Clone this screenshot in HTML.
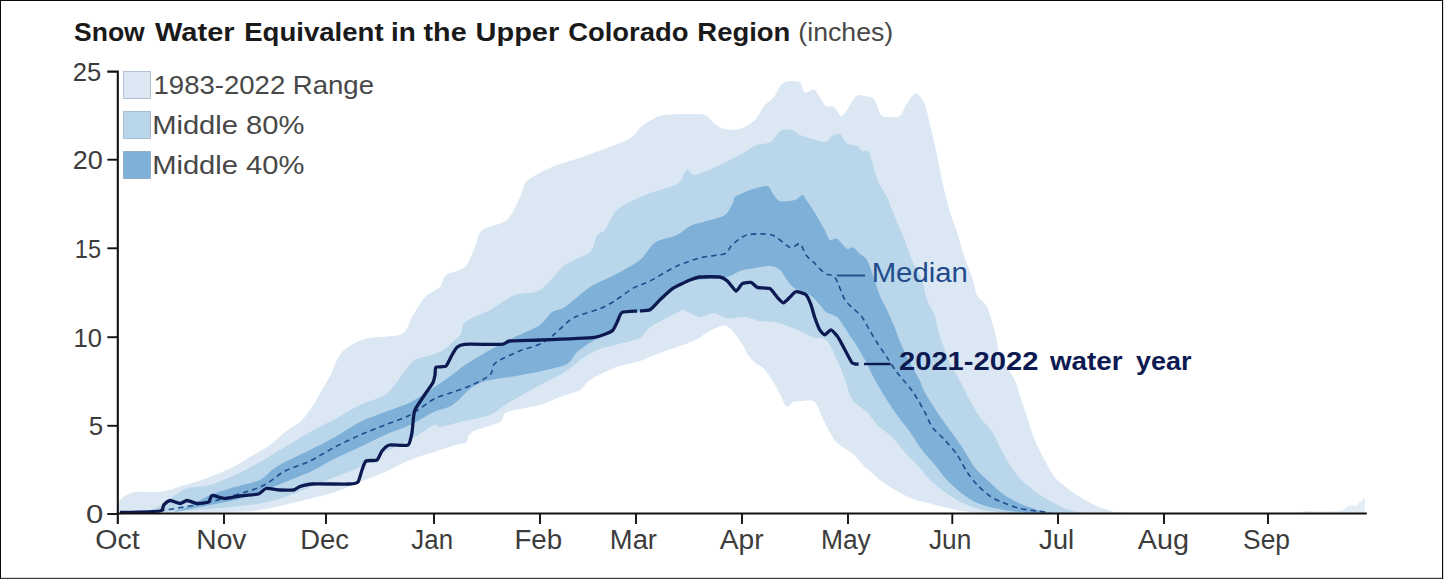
<!DOCTYPE html>
<html><head><meta charset="utf-8"><title>Snow Water Equivalent</title>
<style>
html,body{margin:0;padding:0;background:#fff;}
body{width:1445px;height:581px;overflow:hidden;position:relative;font-family:"Liberation Sans",sans-serif;}
svg{position:absolute;left:0;top:0;font-family:"Liberation Sans",sans-serif;}
</style></head><body>
<svg width="1445" height="581" viewBox="0 0 1445 581">
<g fill="#0a0a0a"><rect x="0" y="0" width="1443.1" height="1"/><rect x="0" y="0" width="1" height="578.7"/><rect x="1442" y="0" width="1.15" height="578.7"/><rect x="0" y="577.85" width="1443.15" height="0.95"/></g>
<path d="M118 513C118.3 511.2 117.6 502.9 120 500C122.4 497.1 129.4 493.1 135 492C140.6 490.9 153.0 493.0 160 492C167.0 491.0 178.0 487.1 185 485C192.0 482.9 203.0 479.7 210 477C217.0 474.3 229.4 468.8 235 466C240.6 463.2 245.1 459.9 250 457C254.9 454.1 265.1 448.5 270 445C274.9 441.5 280.8 435.2 285 432C289.2 428.8 296.2 425.5 300 422C303.8 418.5 308.9 411.5 312 407C315.1 402.5 319.5 394.3 322 390C324.5 385.7 327.2 381.3 330 376C332.8 370.7 337.1 357.2 342 352C346.9 346.8 356.6 341.5 365 339C373.4 336.5 395.4 337.1 402 334C408.6 330.9 408.8 322.2 412 317C415.2 311.8 421.1 301.2 425 297C428.9 292.8 437.1 290.1 440 287C442.9 283.9 442.5 277.8 446 275C449.5 272.2 460.9 270.9 465 267C469.1 263.1 472.6 252.2 475 247C477.4 241.8 477.5 233.8 482 230C486.5 226.2 501.7 224.6 507 220C512.3 215.4 517.2 202.5 520 197C522.8 191.5 522.5 185.2 527 181C531.5 176.8 544.3 170.4 552 167C559.7 163.6 573.2 160.1 582 157C590.8 153.9 608.0 147.8 615 145C622.0 142.2 628.2 139.7 632 137C635.8 134.3 638.1 128.9 642 126C645.9 123.1 654.0 117.7 660 116C666.0 114.3 678.7 114.1 685 114C691.3 113.9 700.8 113.6 705 115C709.2 116.4 712.2 122.0 715 124C717.8 126.0 721.5 128.3 725 129C728.5 129.7 735.8 130.3 740 129C744.2 127.7 751.6 123.2 755 120C758.4 116.8 761.3 109.2 764 106C766.7 102.8 771.5 100.1 774 97C776.5 93.9 779.6 86.2 782 84C784.4 81.8 788.5 81.2 791 81C793.5 80.8 798.0 80.9 800 82.5C802.0 84.1 803.0 91.5 805 92.5C807.0 93.5 811.9 88.8 814 89.5C816.1 90.2 818.3 95.2 820 97.5C821.7 99.8 824.0 104.7 826 106C828.0 107.3 831.9 105.6 834 107C836.1 108.4 839.2 115.6 841 116C842.8 116.4 844.9 112.8 847 110C849.1 107.2 853.6 98.0 856 96C858.4 94.0 861.5 95.6 864 96C866.5 96.4 871.6 96.3 874 99C876.4 101.7 878.8 112.5 881 115C883.2 117.5 887.3 116.9 890 117C892.7 117.1 897.8 117.7 900 116C902.2 114.3 904.2 107.9 906 105C907.8 102.1 911.3 96.5 913 95C914.7 93.5 916.3 92.6 918 94C919.7 95.4 923.3 100.7 925 105C926.7 109.3 928.5 118.7 930 125C931.5 131.3 934.5 143.0 936 150C937.5 157.0 939.6 168.4 941 175C942.4 181.6 944.6 191.4 946 197C947.4 202.6 949.5 210.1 951 215C952.5 219.9 955.1 226.1 957 232C958.9 237.9 962.4 250.7 964.5 257C966.6 263.3 970.2 271.7 972 277C973.8 282.3 974.9 290.8 977 295C979.1 299.2 984.5 302.1 987 307C989.5 311.9 993.1 325.1 994.5 330C995.9 334.9 996.2 338.5 997 342C997.8 345.5 997.5 349.7 1000 355C1002.5 360.3 1011.9 374.4 1014.7 380C1017.5 385.6 1018.0 389.8 1019.7 395C1021.4 400.2 1024.9 410.7 1027 417C1029.1 423.3 1032.2 434.0 1034.7 440C1037.2 446.0 1041.9 454.8 1044.7 460C1047.5 465.2 1051.2 472.8 1054.7 477C1058.2 481.2 1065.5 486.8 1069.7 490C1073.9 493.2 1080.4 497.6 1084.6 500C1088.8 502.4 1095.4 505.3 1099.6 507C1103.8 508.7 1110.3 511.2 1114.6 512C1118.9 512.8 1127.8 512.9 1130 513L990 513C987.2 512.9 975.6 512.6 970 512C964.4 511.4 955.6 509.7 950 508.5C944.4 507.3 935.3 504.9 930 503.5C924.7 502.1 916.9 500.4 912 498.5C907.1 496.6 899.5 492.6 895 490C890.5 487.4 883.0 482.2 880 480C877.0 477.8 875.6 475.8 873.5 474C871.4 472.2 868.0 469.9 865 467C862.0 464.1 856.1 456.5 852 453C847.9 449.5 839.9 446.5 836 442C832.1 437.5 827.0 426.6 824 421C821.0 415.4 818.1 404.8 814.7 402C811.3 399.2 803.0 401.0 800 401C797.0 401.0 794.8 401.2 793 402C791.2 402.8 788.5 407.8 786.8 407C785.1 406.2 782.7 399.3 781 396C779.3 392.7 776.2 386.8 774.4 383.7C772.6 380.6 769.7 376.3 768 374C766.3 371.7 763.7 368.5 762 367C760.3 365.5 757.9 365.0 756 363.5C754.1 362.0 750.2 358.3 748.5 356C746.8 353.7 745.5 349.5 744 347C742.5 344.5 739.4 340.0 738 338C736.6 336.0 735.3 334.5 734 333C732.7 331.5 730.5 328.6 729 327.5C727.5 326.4 724.7 325.5 723 325.5C721.3 325.5 719.3 326.5 717 327.5C714.7 328.5 709.4 331.2 706.7 332.7C704.0 334.2 701.3 336.8 698 338.5C694.7 340.2 688.3 343.0 683 345C677.7 347.0 666.0 350.8 660 353C654.0 355.2 646.3 359.0 640 361C633.7 363.0 622.0 364.8 615 367.5C608.0 370.2 594.9 376.9 590 380C585.1 383.1 584.2 387.6 580 390C575.8 392.4 565.6 394.9 560 397C554.4 399.1 547.4 402.9 540 405C532.6 407.1 512.6 409.6 507 412C501.4 414.4 504.9 419.2 500 422C495.1 424.8 476.8 429.1 472 432C467.2 434.9 467.8 441.3 466 443C464.2 444.7 463.5 442.7 459 444C454.5 445.3 440.9 449.8 434 452C427.1 454.2 416.9 457.2 410 460C403.1 462.8 392.0 468.9 385 472C378.0 475.1 367.0 479.2 360 482C353.0 484.8 343.8 489.2 335 492C326.2 494.8 307.5 499.5 297 502C286.5 504.5 269.4 508.6 260 510C250.6 511.4 249.9 511.6 230 512C210.1 512.4 133.7 512.9 118 513Z" fill="#dbe8f4"/>
<polygon points="1300,513 1305,511 1320,511.5 1340,511 1344,509.5 1349,505 1356,506 1360,502 1364,498.5 1365,498.5 1365,513" fill="#e4eef7"/>
<path d="M140 513C142.8 512.0 153.7 509.4 160 506C166.3 502.6 178.0 491.9 185 489C192.0 486.1 203.0 487.0 210 485C217.0 483.0 228.0 478.2 235 475C242.0 471.8 253.0 465.9 260 462C267.0 458.1 278.0 451.2 285 447C292.0 442.8 303.0 435.9 310 432C317.0 428.1 328.0 422.8 335 419C342.0 415.2 353.0 408.4 360 405C367.0 401.6 379.8 398.2 385 395C390.2 391.8 394.6 384.8 397 382C399.4 379.2 399.5 378.1 402 375C404.5 371.9 409.7 363.2 415 360C420.3 356.8 433.7 355.5 440 352C446.3 348.5 456.5 339.2 460 335C463.5 330.8 460.8 325.5 465 322C469.2 318.5 483.0 313.8 490 310C497.0 306.2 508.0 297.8 515 295C522.0 292.2 533.0 294.2 540 290C547.0 285.8 558.0 270.3 565 265C572.0 259.7 585.5 256.2 590 252C594.5 247.8 594.9 238.1 597 235C599.1 231.9 602.2 233.5 605 230C607.8 226.5 611.4 214.9 617 210C622.6 205.1 636.6 198.6 645 195C653.4 191.4 671.4 187.2 677 184C682.6 180.8 683.5 174.0 685 172C686.5 170.0 686.6 169.6 688 170C689.4 170.4 690.5 175.7 695 175C699.5 174.3 713.0 168.2 720 165C727.0 161.8 739.8 154.8 745 152C750.2 149.2 753.5 146.3 757 145C760.5 143.7 767.1 144.0 770 142.5C772.9 141.0 775.8 135.8 777.5 134C779.2 132.2 780.4 130.6 782.5 130C784.6 129.4 790.0 129.3 792.5 130C795.0 130.7 795.5 133.3 800 135C804.5 136.7 820.5 141.9 825 142C829.5 142.1 829.9 137.1 832 136C834.1 134.9 837.9 132.9 840 134C842.1 135.1 844.6 141.8 847 143.5C849.4 145.2 854.9 144.9 857 146C859.1 147.1 860.3 150.2 862 151C863.7 151.8 867.2 149.1 869 152C870.8 154.9 873.5 167.4 875 172C876.5 176.6 878.3 181.5 880 185C881.7 188.5 885.3 193.5 887 197C888.7 200.5 890.6 206.5 892 210C893.4 213.5 895.2 217.8 897 222C898.8 226.2 902.5 234.7 904.6 240C906.7 245.3 909.6 254.4 912 260C914.4 265.6 919.9 274.4 922 280C924.1 285.6 925.2 295.1 927 300C928.8 304.9 933.1 310.8 934.6 315C936.1 319.2 937.0 326.2 938 330C939.0 333.8 940.4 337.5 942 342C943.6 346.5 947.0 356.7 949.5 362C952.0 367.3 956.7 374.7 959.5 380C962.3 385.3 967.0 394.8 969.8 400C972.6 405.2 976.6 412.5 979.8 417C982.9 421.5 989.1 427.1 992.3 432C995.4 436.9 999.2 446.4 1002.3 452C1005.4 457.6 1011.2 467.4 1014.7 472C1018.2 476.6 1023.5 481.8 1027 485C1030.5 488.2 1036.2 492.6 1039.7 495C1043.2 497.4 1048.5 500.1 1052 502C1055.5 503.9 1061.2 507.1 1064.7 508.5C1068.2 509.9 1073.5 511.4 1077 512C1080.5 512.6 1088.2 512.9 1090 513L1010 513C1007.2 512.7 995.3 511.8 990 511C984.7 510.2 976.6 508.5 972 507C967.4 505.5 961.2 502.4 957 500C952.8 497.6 945.8 492.8 942 490C938.2 487.2 933.4 483.5 930 480C926.6 476.5 920.9 468.9 917.4 465C913.9 461.1 908.5 456.3 905 452.4C901.5 448.5 896.3 441.2 892.4 437.4C888.5 433.6 880.9 428.5 877.4 425C873.9 421.5 871.0 416.0 867.5 412.5C864.0 409.0 855.6 404.6 852.5 400C849.4 395.4 846.8 384.6 845 380C843.2 375.4 842.1 371.9 840 367C837.9 362.1 832.5 349.1 830 345C827.5 340.9 824.1 339.0 822 338C819.9 337.0 817.8 338.8 815 338C812.2 337.2 805.5 333.5 802 332C798.5 330.5 793.8 328.4 790 327C786.2 325.6 779.2 322.8 775 322C770.8 321.2 764.2 321.7 760 321C755.8 320.3 749.2 317.4 745 317C740.8 316.6 733.1 318.5 730 318.5C726.9 318.5 725.2 317.8 723 317C720.8 316.2 717.0 313.0 714 313C711.0 313.0 704.2 316.6 701.5 317C698.8 317.4 697.6 316.5 695 315.5C692.4 314.5 685.5 310.4 683 310C680.5 309.6 679.8 311.1 677 312.5C674.2 313.9 666.9 317.8 663 320C659.1 322.2 652.2 325.5 649 328C645.8 330.5 644.8 335.6 640 338C635.2 340.4 621.0 343.3 615 345C609.0 346.7 601.9 347.9 597 350C592.1 352.1 584.5 356.9 580 360C575.5 363.1 570.6 368.5 565 372C559.4 375.5 546.0 381.8 540 385C534.0 388.2 526.9 392.2 522 395C517.1 397.8 509.5 402.2 505 405C500.5 407.8 496.3 412.6 490 415C483.7 417.4 467.0 420.3 460 422C453.0 423.7 443.6 426.6 440 427C436.4 427.4 438.2 423.2 434 425C429.8 426.8 416.9 436.2 410 440C403.1 443.8 392.0 448.2 385 452C378.0 455.8 367.0 463.5 360 467C353.0 470.5 342.0 474.2 335 477C328.0 479.8 317.0 484.2 310 487C303.0 489.8 292.0 494.7 285 497C278.0 499.3 270.5 501.8 260 503.5C249.5 505.2 226.8 507.7 210 509C193.2 510.3 149.8 512.4 140 513Z" fill="#b9d6ea"/>
<path d="M170 513C172.8 512.0 184.4 508.5 190 506C195.6 503.5 203.7 497.7 210 495C216.3 492.3 228.0 489.1 235 487C242.0 484.9 254.8 482.4 260 480C265.2 477.6 268.5 472.5 272 470C275.5 467.5 279.7 464.8 285 462C290.3 459.2 303.0 453.5 310 450C317.0 446.5 328.0 440.9 335 437C342.0 433.1 353.0 425.5 360 422C367.0 418.5 378.0 414.7 385 412C392.0 409.3 403.1 405.9 410 402.5C416.9 399.1 428.1 391.4 434 387.5C439.9 383.6 447.7 378.1 452 375C456.3 371.9 459.7 368.5 465 365C470.3 361.5 483.0 353.9 490 350C497.0 346.1 508.0 340.5 515 337C522.0 333.5 534.8 328.5 540 325C545.2 321.5 548.5 314.5 552 312C555.5 309.5 559.7 310.5 565 307C570.3 303.5 583.1 291.5 590 287C596.9 282.5 607.5 278.8 614.5 275C621.5 271.2 634.3 264.6 640 260C645.7 255.4 649.8 246.0 655 242.5C660.2 239.0 672.1 237.3 677 235C681.9 232.7 685.8 228.0 690 226C694.2 224.0 702.1 222.5 707 221C711.9 219.5 721.4 217.5 725 215C728.6 212.5 731.6 205.5 733 203C734.4 200.5 732.6 198.8 735 197C737.4 195.2 745.5 191.5 750 190C754.5 188.5 763.9 185.7 767 186C770.1 186.3 770.2 189.9 772 192C773.8 194.1 776.3 199.9 779.5 201C782.7 202.1 791.8 200.8 795 200C798.2 199.2 800.8 194.9 802.5 195C804.2 195.1 805.3 198.6 807 201C808.7 203.4 812.2 208.4 814.7 212.5C817.2 216.6 822.6 226.2 824.7 230C826.8 233.8 828.0 238.8 829.7 240C831.4 241.2 834.6 237.5 837 238.7C839.4 239.9 844.7 247.5 847 248.7C849.3 249.9 851.6 246.7 853.4 247.4C855.2 248.1 857.8 251.9 859.7 253.7C861.6 255.5 864.9 256.3 867 260C869.1 263.7 872.8 275.1 874.6 280C876.4 284.9 877.9 290.8 879.6 295C881.3 299.2 884.9 305.5 887 310C889.1 314.5 892.8 322.7 894.6 327C896.4 331.3 897.5 336.1 899.6 341C901.7 345.9 906.8 356.5 909.6 362C912.4 367.5 917.5 375.7 919.6 380C921.7 384.3 922.4 387.9 924.9 392.5C927.4 397.1 933.9 407.2 937.4 412.5C940.9 417.8 946.3 425.1 949.8 430C953.3 434.9 958.8 442.2 962.3 447.4C965.8 452.6 970.9 462.5 974.8 467.4C978.6 472.3 985.9 478.6 989.8 482.3C993.6 486.0 998.8 491.0 1002.3 493.6C1005.8 496.2 1010.9 499.1 1014.7 501C1018.5 502.9 1025.5 505.8 1029.7 507.3C1033.9 508.8 1041.2 511.2 1044.7 512C1048.2 512.8 1053.6 512.9 1055 513L1030 513C1027.2 512.7 1015.6 511.8 1010 511C1004.4 510.2 994.9 508.3 990 507C985.1 505.7 979.2 504.1 975 502C970.8 499.9 963.9 495.1 960 492C956.1 488.9 950.5 483.8 947 480C943.5 476.2 938.5 469.2 935 465C931.5 460.8 925.5 454.6 922 450C918.5 445.4 913.5 436.9 910 432C906.5 427.1 900.5 419.9 897 415C893.5 410.1 888.1 401.9 885 397C881.9 392.1 877.8 385.2 875 380C872.2 374.8 867.8 365.2 865 360C862.2 354.8 857.1 346.4 855 343C852.9 339.6 851.4 338.1 850 336C848.6 333.9 846.8 330.7 845 328C843.2 325.3 839.7 319.2 837 317C834.3 314.8 828.4 313.7 826 312C823.6 310.3 822.2 307.4 820 305C817.8 302.6 813.5 297.3 810 295C806.5 292.7 798.2 290.7 795 288.6C791.8 286.5 789.1 282.6 787 280C784.9 277.4 782.4 272.0 780 270C777.6 268.0 773.9 266.2 770 266C766.1 265.8 756.2 267.9 752 268.6C747.8 269.3 743.5 269.8 740 271C736.5 272.2 732.3 275.8 727 277C721.7 278.2 707.2 278.9 702 279.5C696.8 280.1 694.2 279.7 690 281C685.8 282.3 676.2 286.3 672 289C667.8 291.7 663.1 297.1 660 300C656.9 302.9 652.8 308.4 650 310C647.2 311.6 643.9 310.9 640 311.5C636.1 312.1 625.2 312.4 622 314C618.8 315.6 618.4 320.5 617 323C615.6 325.5 615.1 329.6 612 332C608.9 334.4 599.4 337.2 594.5 340C589.6 342.8 581.1 348.5 577 352C572.9 355.5 572.7 361.8 565 365C557.3 368.2 532.5 372.9 522 375C511.5 377.1 496.9 378.3 490 380C483.1 381.7 477.6 383.5 472.4 387C467.1 390.5 457.9 401.5 452.5 405C447.1 408.5 439.9 409.2 434 412C428.1 414.8 416.9 421.8 410 425C403.1 428.2 392.0 431.9 385 435C378.0 438.1 367.0 443.7 360 447C353.0 450.3 342.0 455.1 335 458.6C328.0 462.1 317.0 468.7 310 472C303.0 475.3 292.0 479.2 285 482C278.0 484.8 267.0 489.5 260 492C253.0 494.5 242.0 498.2 235 500C228.0 501.8 216.3 503.7 210 505C203.7 506.3 195.6 507.9 190 509C184.4 510.1 172.8 512.4 170 513Z" fill="#7fb1d8"/>
<path d="M150 512.5C151.4 512.3 151.6 512.5 160 511C168.4 509.5 196.0 505.4 210 502C224.0 498.6 249.5 491.3 260 487C270.5 482.7 278.0 474.6 285 471C292.0 467.4 303.0 464.4 310 461C317.0 457.6 328.0 450.6 335 447C342.0 443.4 353.0 438.1 360 435C367.0 431.9 378.0 427.8 385 425C392.0 422.2 403.1 418.6 410 415C416.9 411.4 428.1 402.2 434 399C439.9 395.8 447.1 394.3 452.5 392.3C457.9 390.3 467.1 387.2 472.4 384.8C477.6 382.4 487.0 377.8 490 375C493.0 372.2 492.2 367.1 493.6 365C495.0 362.9 496.0 362.1 500 360C504.0 357.9 516.4 352.2 522 350C527.6 347.8 535.4 346.3 540 344C544.6 341.7 550.8 337.1 555 333.7C559.2 330.3 566.5 322.6 570 320C573.5 317.4 575.8 316.6 580 315C584.2 313.4 595.2 310.7 600 308.7C604.8 306.7 609.7 304.0 614.5 301C619.3 298.0 629.5 290.2 634.5 287.4C639.5 284.6 644.0 284.0 650 281C656.0 278.0 669.7 269.3 677 266C684.3 262.7 695.3 259.1 702 257.4C708.7 255.7 720.8 255.4 725 253.7C729.2 252.0 728.9 247.6 732 245C735.1 242.4 741.4 236.4 747 235C752.6 233.6 766.0 233.3 772 235C778.0 236.7 786.1 246.2 790 247.4C793.9 248.6 797.8 242.6 800 243.7C802.2 244.8 803.9 252.2 806 255C808.1 257.8 812.3 261.0 815 263.6C817.7 266.2 822.2 271.7 825 273.6C827.8 275.5 832.2 273.7 835 277.4C837.8 281.1 842.2 295.4 845 300C847.8 304.6 852.6 307.6 855 310C857.4 312.4 859.9 314.1 862 317C864.1 319.9 867.9 327.4 870 331C872.1 334.6 874.6 338.8 877 342.5C879.4 346.2 884.2 353.3 887 357.5C889.8 361.7 893.8 368.2 897 372.4C900.2 376.6 907.1 384.2 909.6 387.4C912.1 390.6 912.8 391.5 915 395C917.2 398.5 922.6 408.0 925 412.5C927.4 417.0 929.6 423.5 932.4 427.4C935.2 431.2 941.3 436.1 944.8 440C948.3 443.9 954.1 450.5 957.3 455C960.4 459.5 964.5 468.2 967.3 472.4C970.1 476.6 974.1 481.5 977.3 484.8C980.4 488.1 986.3 493.6 989.8 496C993.3 498.4 998.1 500.6 1002.3 502.3C1006.5 504.1 1014.8 507.3 1019.7 508.5C1024.6 509.7 1033.0 510.4 1037.2 511C1041.4 511.6 1048.2 512.3 1050 512.5" fill="none" stroke="#214b8c" stroke-width="1.6" stroke-dasharray="5.4 4.1"/>
<path d="M120 512.5C123.6 512.4 156.1 511.7 160 511C163.9 510.3 162.8 505.9 163.7 505C164.6 504.1 168.5 500.6 170 500.5C171.5 500.4 178.5 503.5 180 503.5C181.5 503.5 185.5 500.5 187 500.5C188.5 500.5 195.1 503.4 197 503.5C198.9 503.6 207.2 502.7 208.6 502C209.9 501.3 210.5 495.8 212 495.5C213.5 495.2 222.5 498.5 225 498.5C227.5 498.5 237.0 496.4 240 496C243.0 495.6 256.2 494.7 258.5 494C260.8 493.3 264.1 488.9 266 488.5C267.9 488.1 277.5 489.9 280 490C282.5 490.1 291.7 490.3 293.5 490C295.3 489.7 298.3 487.0 300 486.5C301.7 486.0 307.5 484.2 312 484C316.5 483.8 345.5 484.2 349.6 484C353.7 483.8 356.9 483.3 358 482C359.1 480.7 361.3 471.9 362 470C362.7 468.1 364.6 461.9 366 461C367.4 460.1 375.6 460.9 377 460C378.4 459.1 380.9 452.4 382 451C383.1 449.6 387.2 445.5 389.5 445C391.8 444.5 406.0 446.1 408 445C410.0 443.9 411.4 435.5 412 432.4C412.6 429.3 413.4 414.4 414.5 411C415.6 407.6 422.8 397.6 424.5 395C426.2 392.4 432.1 384.3 433 382.5C433.9 380.7 434.7 376.4 435 375C435.3 373.6 435.0 368.1 436 367.3C437.0 366.5 444.6 367.1 446 366C447.4 364.9 451.0 356.7 452 355C453.0 353.3 455.9 348.3 457 347.3C458.1 346.3 460.6 344.6 464.7 344.3C468.8 344.0 497.9 344.6 502 344.3C506.1 344.0 506.3 341.4 509.7 341C513.1 340.6 532.0 340.3 539.6 340C547.2 339.7 588.0 338.1 594.5 337.3C601.0 336.5 610.0 332.3 612 331C614.0 329.7 616.1 324.1 617 322.4C617.9 320.7 620.2 313.4 622 312.4C623.8 311.4 635.6 311.1 637 311" fill="none" stroke="#0d1a52" stroke-width="3.3" stroke-linejoin="round"/>
<path d="M640 311C640.9 310.9 648.2 310.8 650 309.8C651.8 308.8 658.0 301.7 660 299.8C662.0 297.9 669.8 290.4 672.5 288.6C675.2 286.8 687.5 281.0 690 280C692.5 279.0 697.3 277.3 700 277C702.7 276.7 717.5 276.6 720 277C722.5 277.4 726.0 279.7 727.4 281C728.8 282.3 734.7 290.8 736 291C737.3 291.2 740.9 284.4 742.3 283.6C743.6 282.8 749.6 282.1 751 282.4C752.4 282.7 755.6 286.8 757.3 287.4C759.0 288.0 768.0 287.7 769.8 288.6C771.6 289.5 776.1 296.0 777.3 297.3C778.5 298.6 782.4 302.8 783.5 302.8C784.6 302.8 788.7 298.3 789.8 297.3C790.9 296.3 794.5 291.8 796 291.6C797.5 291.4 804.6 293.6 806 294.8C807.4 296.0 810.2 302.8 811 304.8C811.8 306.8 813.9 315.1 814.7 317.3C815.5 319.6 818.8 328.2 819.7 329.8C820.6 331.4 823.7 334.8 824.7 334.8C825.7 334.8 829.9 329.7 831 329.8C832.1 329.9 836.4 335.1 837.2 336C838.0 336.9 838.8 338.4 839.7 340C840.6 341.6 845.9 351.6 847 353.7C848.1 355.8 851.3 361.9 852 362.8C852.7 363.7 854.4 363.9 855 364C855.6 364.1 858.3 364.2 858.6 364.2" fill="none" stroke="#0d1a52" stroke-width="3.3" stroke-linejoin="round"/>
<path d="M107.3 71.6H117.8V524" fill="none" stroke="#111" stroke-width="2.1"/>
<path d="M116.8 513.5H1366.8" fill="none" stroke="#111" stroke-width="2.1"/>
<path d="M107.3 159.7H117.8" stroke="#111" stroke-width="1.9"/>
<path d="M107.3 248.3H117.8" stroke="#111" stroke-width="1.9"/>
<path d="M107.3 337.2H117.8" stroke="#111" stroke-width="1.9"/>
<path d="M107.3 425.8H117.8" stroke="#111" stroke-width="1.9"/>
<path d="M107.3 514H117.8" stroke="#111" stroke-width="1.9"/>
<path d="M224 513.5V524" stroke="#111" stroke-width="1.9"/>
<path d="M326 513.5V524" stroke="#111" stroke-width="1.9"/>
<path d="M434 513.5V524" stroke="#111" stroke-width="1.9"/>
<path d="M540 513.5V524" stroke="#111" stroke-width="1.9"/>
<path d="M636 513.5V524" stroke="#111" stroke-width="1.9"/>
<path d="M742 513.5V524" stroke="#111" stroke-width="1.9"/>
<path d="M848 513.5V524" stroke="#111" stroke-width="1.9"/>
<path d="M952.3 513.5V524" stroke="#111" stroke-width="1.9"/>
<path d="M1058 513.5V524" stroke="#111" stroke-width="1.9"/>
<path d="M1164 513.5V524" stroke="#111" stroke-width="1.9"/>
<path d="M1268 513.5V524" stroke="#111" stroke-width="1.9"/>
<text x="72.7" y="80.9" font-size="26.5" font-weight="normal" fill="#3c3c3c" textLength="28.44" lengthAdjust="spacingAndGlyphs">25</text>
<text x="72.69" y="169" font-size="26.5" font-weight="normal" fill="#3c3c3c" textLength="30.03" lengthAdjust="spacingAndGlyphs">20</text>
<text x="74.84" y="257.6" font-size="26.5" font-weight="normal" fill="#3c3c3c" textLength="26.23" lengthAdjust="spacingAndGlyphs">15</text>
<text x="73.5" y="346.5" font-size="26.5" font-weight="normal" fill="#3c3c3c" textLength="28.48" lengthAdjust="spacingAndGlyphs">10</text>
<text x="88.7" y="435.1" font-size="26.5" font-weight="normal" fill="#3c3c3c" textLength="14.4" lengthAdjust="spacingAndGlyphs">5</text>
<text x="86.0" y="523.3" font-size="26.5" font-weight="normal" fill="#3c3c3c" textLength="17.3" lengthAdjust="spacingAndGlyphs">0</text>
<text x="95.33" y="548.5" font-size="27" font-weight="normal" fill="#3c3c3c" textLength="44.47" lengthAdjust="spacingAndGlyphs">Oct</text>
<text x="196.27" y="548.5" font-size="27" font-weight="normal" fill="#3c3c3c" textLength="50.15" lengthAdjust="spacingAndGlyphs">Nov</text>
<text x="300.25" y="548.5" font-size="27" font-weight="normal" fill="#3c3c3c" textLength="48.78" lengthAdjust="spacingAndGlyphs">Dec</text>
<text x="411.37" y="548.5" font-size="27" font-weight="normal" fill="#3c3c3c" textLength="41.71" lengthAdjust="spacingAndGlyphs">Jan</text>
<text x="514.42" y="548.5" font-size="27" font-weight="normal" fill="#3c3c3c" textLength="47.65" lengthAdjust="spacingAndGlyphs">Feb</text>
<text x="609.84" y="548.5" font-size="27" font-weight="normal" fill="#3c3c3c" textLength="47.16" lengthAdjust="spacingAndGlyphs">Mar</text>
<text x="719.79" y="548.5" font-size="27" font-weight="normal" fill="#3c3c3c" textLength="43.83" lengthAdjust="spacingAndGlyphs">Apr</text>
<text x="820.9" y="548.5" font-size="27" font-weight="normal" fill="#3c3c3c" textLength="49.89" lengthAdjust="spacingAndGlyphs">May</text>
<text x="928.96" y="548.5" font-size="27" font-weight="normal" fill="#3c3c3c" textLength="42.34" lengthAdjust="spacingAndGlyphs">Jun</text>
<text x="1038.9" y="548.5" font-size="27" font-weight="normal" fill="#3c3c3c" textLength="35.31" lengthAdjust="spacingAndGlyphs">Jul</text>
<text x="1137.78" y="548.5" font-size="27" font-weight="normal" fill="#3c3c3c" textLength="51.27" lengthAdjust="spacingAndGlyphs">Aug</text>
<text x="1243.11" y="548.5" font-size="27" font-weight="normal" fill="#3c3c3c" textLength="46.94" lengthAdjust="spacingAndGlyphs">Sep</text>
<rect x="123.5" y="71.5" width="27" height="27" fill="#dbe8f4" stroke="rgba(60,95,130,0.33)" stroke-width="1"/>
<text x="153.57" y="94" font-size="26.5" font-weight="normal" fill="#484848" textLength="220.44" lengthAdjust="spacingAndGlyphs">1983-2022 Range</text>
<rect x="123.5" y="111.5" width="27" height="27" fill="#b9d6ea" stroke="rgba(60,95,130,0.33)" stroke-width="1"/>
<text x="152.15" y="134" font-size="26.5" font-weight="normal" fill="#484848" textLength="152.27" lengthAdjust="spacingAndGlyphs">Middle 80%</text>
<rect x="123.5" y="151.5" width="27" height="27" fill="#7fb1d8" stroke="rgba(60,95,130,0.33)" stroke-width="1"/>
<text x="152.15" y="174" font-size="26.5" font-weight="normal" fill="#484848" textLength="152.27" lengthAdjust="spacingAndGlyphs">Middle 40%</text>
<text x="73.98" y="40.8" font-size="26.5" font-weight="bold" fill="#1a1a1a" textLength="70.82" lengthAdjust="spacingAndGlyphs">Snow</text>
<text x="154.99" y="40.8" font-size="26.5" font-weight="bold" fill="#1a1a1a" textLength="79.61" lengthAdjust="spacingAndGlyphs">Water</text>
<text x="244.17" y="40.8" font-size="26.5" font-weight="bold" fill="#1a1a1a" textLength="139.43" lengthAdjust="spacingAndGlyphs">Equivalent</text>
<text x="391.03" y="40.8" font-size="26.5" font-weight="bold" fill="#1a1a1a" textLength="24.8" lengthAdjust="spacingAndGlyphs">in</text>
<text x="423.57" y="40.8" font-size="26.5" font-weight="bold" fill="#1a1a1a" textLength="43.07" lengthAdjust="spacingAndGlyphs">the</text>
<text x="475.55" y="40.8" font-size="26.5" font-weight="bold" fill="#1a1a1a" textLength="83.66" lengthAdjust="spacingAndGlyphs">Upper</text>
<text x="568.18" y="40.8" font-size="26.5" font-weight="bold" fill="#1a1a1a" textLength="120.24" lengthAdjust="spacingAndGlyphs">Colorado</text>
<text x="697.34" y="40.8" font-size="26.5" font-weight="bold" fill="#1a1a1a" textLength="92.94" lengthAdjust="spacingAndGlyphs">Region</text>
<text x="798.36" y="40.8" font-size="26.5" font-weight="normal" fill="#484848" textLength="94.91" lengthAdjust="spacingAndGlyphs">(inches)</text>
<path d="M837 275.5H865" stroke="#214b8c" stroke-width="1.9"/>
<text x="871.67" y="282" font-size="27" font-weight="normal" fill="#214b8c" textLength="96.24" lengthAdjust="spacingAndGlyphs">Median</text>
<path d="M864 364H890.6" stroke="#0d1a52" stroke-width="2.4"/>
<text x="898.98" y="369.8" font-size="25.5" font-weight="bold" fill="#0d1a52" textLength="139.43" lengthAdjust="spacingAndGlyphs">2021-2022</text>
<text x="1050.0" y="369.8" font-size="25.5" font-weight="bold" fill="#0d1a52" textLength="72.6" lengthAdjust="spacingAndGlyphs">water</text>
<text x="1135.98" y="369.8" font-size="25.5" font-weight="bold" fill="#0d1a52" textLength="55.45" lengthAdjust="spacingAndGlyphs">year</text>
</svg>
</body></html>
